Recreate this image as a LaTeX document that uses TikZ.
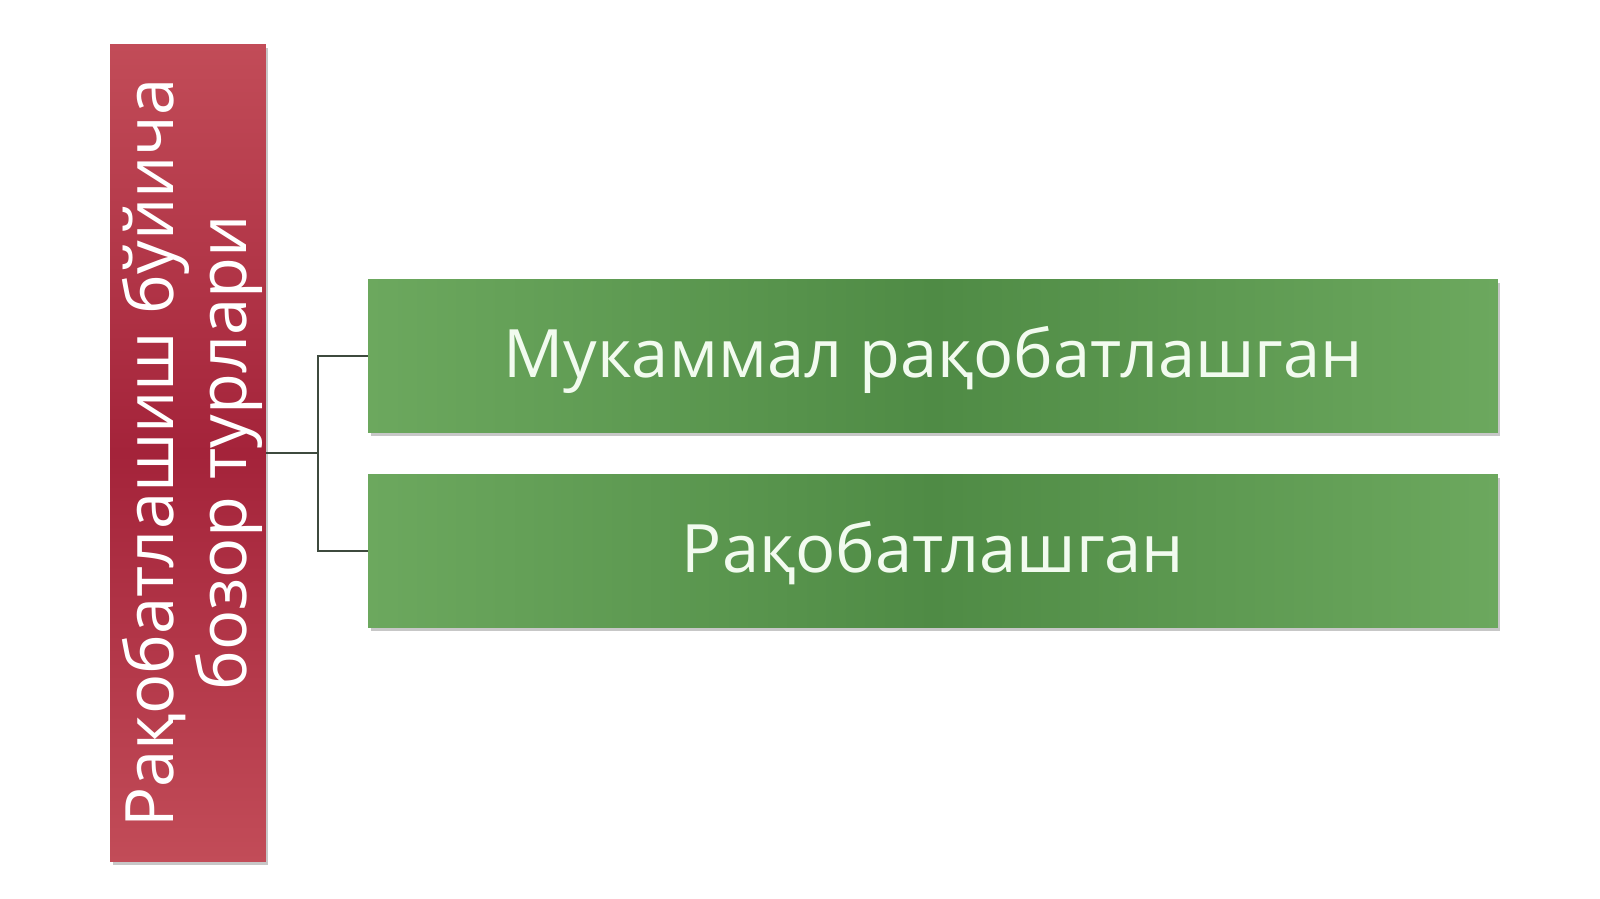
\documentclass[tikz,border=0pt]{standalone}
\usepackage{fontspec}
\setmainfont{Open Sans}
\usetikzlibrary{positioning,shadows}
\tikzset{every shadow/.style={fill=black,opacity=0.22,shadow xshift=0.05cm,shadow yshift=-0.07cm}}
\definecolor{redlight}{HTML}{C24C58}
\definecolor{reddark}{HTML}{A4233A}
\definecolor{greenlight}{HTML}{6CA85E}
\definecolor{greendark}{HTML}{4F8B45}
\definecolor{linkgray}{HTML}{3E4A3E}
\tikzset{redbox/.style={rectangle,draw=none,top color=redlight,bottom color=redlight,middle color=reddark,
  text=white,drop shadow,rotate=90,minimum width=16.36cm,minimum height=3.12cm,align=center,
  font=\fontsize{38}{42}\selectfont,inner sep=0pt,text height=2.66cm,text depth=0.3cm}}
\tikzset{greenbox/.style={rectangle,draw=none,left color=greenlight,right color=greenlight,middle color=greendark,
  text={rgb,255:red,242;green,251;blue,239},drop shadow,minimum width=22.6cm,minimum height=3.08cm,
  font=\fontsize{38}{42}\selectfont,inner sep=0pt,text height=1.18cm,text depth=0.3cm}}
\tikzset{link/.style={draw=linkgray,line width=0.8pt}}

\begin{document}
\begin{tikzpicture}[x=0.02cm,y=-0.02cm]
\useasboundingbox (0,0) rectangle (1600,899);
% \draw[help lines,step=100] (0,0) grid (1600,899);
\node (kinds) [redbox] at (188,453) {Рақобатлашиш бўйича\\бозор турлари};
\node (perfect) [greenbox] at (933,356) {Мукаммал рақобатлашган};
\node (compet) [greenbox] at (933,551) {Рақобатлашган};
%
\coordinate (fork) at (318,453);
{\draw[link] (kinds.south) -- (fork);}
{\draw[link] (fork) |- (perfect.west);}
{\draw[link] (fork) |- (compet.west);}
\end{tikzpicture}
\end{document}
